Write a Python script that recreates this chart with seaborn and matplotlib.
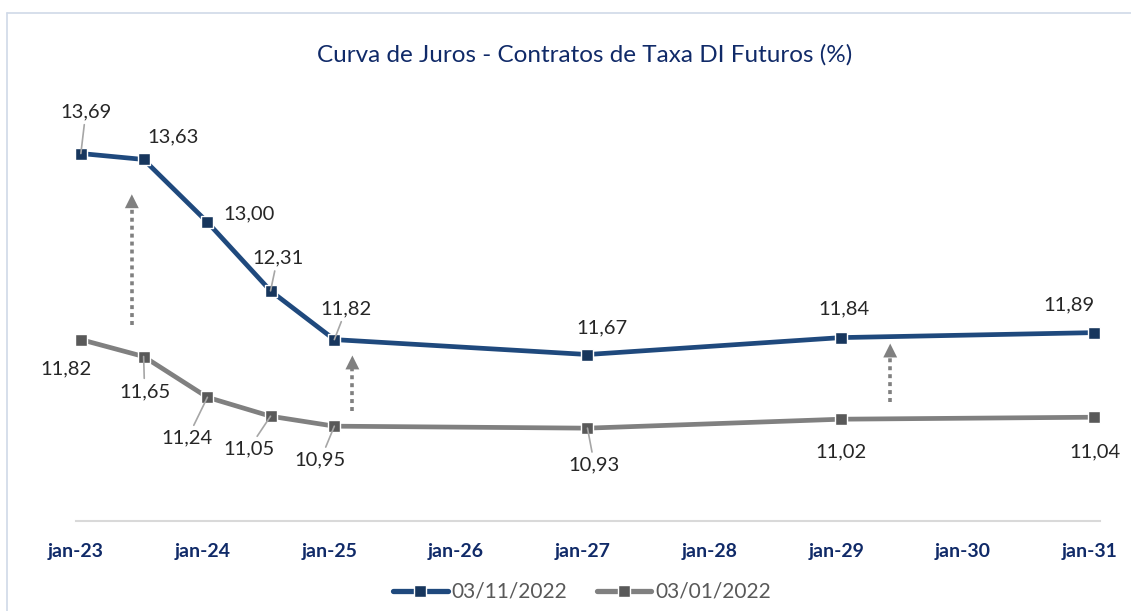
import numpy as np
import pandas as pd
import matplotlib
matplotlib.use("Agg")
import matplotlib.pyplot as plt
import matplotlib.dates as mdates
from matplotlib.lines import Line2D
import seaborn as sns

# ---------------- data ----------------
maturities = ["2023-01-15", "2023-07-15", "2024-01-15", "2024-07-15",
              "2025-01-15", "2027-01-15", "2029-01-15", "2031-01-15"]
curve_nov = [13.69, 13.63, 13.00, 12.31, 11.82, 11.67, 11.84, 11.89]
curve_jan = [11.82, 11.65, 11.24, 11.05, 10.95, 10.93, 11.02, 11.04]
series_names = ["03/11/2022", "03/01/2022"]
tick_dates = ["2023-01-01", "2024-01-01", "2025-01-01", "2026-01-01", "2027-01-01",
              "2028-01-01", "2029-01-01", "2030-01-01", "2031-01-01"]
tick_labels = ["jan-23", "jan-24", "jan-25", "jan-26", "jan-27",
               "jan-28", "jan-29", "jan-30", "jan-31"]
title = "Curva de Juros - Contratos de Taxa DI Futuros (%)"
arrow_x = ["2023-06-11", "2025-03-08", "2029-06-06"]
arrow_from = [11.97, 11.10, 11.19]
arrow_to = [13.28, 11.66, 11.78]

# ---------------- styles ----------------
FONT = "Lato"
blue_line, blue_mark = "#1F497D", "#17365D"
gray_line, gray_mark = "#808080", "#595959"
navy_text = "#102A68"
# label offsets (pixels) and leader-line flags
nov_off = [(5, 42), (29, 23), (42, 8), (7, 33), (12, 31), (14, 27), (3, 29), (-25, 28)]
nov_lead = [True, False, False, True, True, False, False, False]
jan_off = [(-15, -29), (1, -35), (-20, -41), (-22, -33), (-14, -34), (7, -37), (0, -33), (1, -35)]
jan_lead = [False, True, True, True, True, True, False, False]

sns.set_theme(style="white")
plt.rcParams["font.family"] = [FONT, "DejaVu Sans"]

W, H = 1131, 611
fig = plt.figure(figsize=(W / 100, H / 100), dpi=100)
ax_left, ax_right, ax_bot, ax_top = 76, 1100, 520.7, 72.9
ax = fig.add_axes([ax_left / W, 1 - ax_bot / H, (ax_right - ax_left) / W, (ax_bot - ax_top) / H])

x = mdates.date2num(pd.to_datetime(maturities))
df = pd.DataFrame({
    "x": np.concatenate([x, x]),
    "y": curve_nov + curve_jan,
    "serie": [series_names[0]] * len(x) + [series_names[1]] * len(x),
})

for name, lc, mc in [(series_names[0], blue_line, blue_mark), (series_names[1], gray_line, gray_mark)]:
    sns.lineplot(data=df[df["serie"] == name], x="x", y="y", ax=ax, color=lc,
                 linewidth=3.4, marker="s", markersize=9, markerfacecolor=mc,
                 markeredgecolor="white", markeredgewidth=1.0, legend=False, zorder=3)

# data labels
def add_labels(vals, offs, leads):
    for xi, v, (dx, dy), lead in zip(x, vals, offs, leads):
        txt = f"{v:.2f}".replace(".", ",")
        kw = {}
        if lead:
            kw["arrowprops"] = dict(arrowstyle="-", color="#A6A6A6", lw=1.2,
                                    shrinkA=1, shrinkB=0)
        ax.annotate(txt, xy=(xi, v), xytext=(dx, dy), textcoords="offset pixels",
                    ha="center", va="center", fontsize=14.5, color="#262626", zorder=5, **kw)

add_labels(curve_nov, nov_off, nov_lead)
add_labels(curve_jan, jan_off, jan_lead)

# dotted arrows
ax_x = mdates.date2num(pd.to_datetime(arrow_x))
for xa, y0, y1 in zip(ax_x, arrow_from, arrow_to):
    ax.plot([xa, xa], [y0, y1 - 0.13], color=gray_line, lw=2.6,
            linestyle=(0, (1.1, 1.1)), solid_capstyle="butt", dash_capstyle="butt", zorder=2)
    ax.annotate("", xy=(xa, y1), xytext=(0, -15), textcoords="offset pixels",
                arrowprops=dict(arrowstyle="-|>,head_length=1.0,head_width=0.5",
                                color=gray_line, lw=0, shrinkA=0, shrinkB=0,
                                mutation_scale=10), zorder=2)

# axes styling
ax.set_ylim(10, 14.5)
ax.set_xlim(mdates.date2num(pd.Timestamp("2023-01-01")), mdates.date2num(pd.Timestamp("2031-02-01")))
ax.set_xticks(mdates.date2num(pd.to_datetime(tick_dates)))
ax.set_xticklabels(tick_labels, fontsize=14, fontweight="bold", color=navy_text)
ax.set_yticks([])
ax.set_xlabel("")
ax.set_ylabel("")
for s in ["top", "right", "left"]:
    ax.spines[s].set_visible(False)
ax.spines["bottom"].set_color("#D9D9D9")
ax.spines["bottom"].set_linewidth(1.5)
ax.tick_params(axis="x", direction="out", length=5, width=1.5, color="#D9D9D9", pad=11)
ax.set_facecolor("none")

fig.text(585 / W, 1 - 55 / H, title, ha="center", va="center", fontsize=17.5, color=navy_text)

handles = [
    Line2D([0], [0], color=blue_line, lw=3.8, marker="s", markersize=9,
           markerfacecolor=blue_mark, markeredgecolor="white", markeredgewidth=1.0),
    Line2D([0], [0], color=gray_line, lw=3.8, marker="s", markersize=9,
           markerfacecolor=gray_mark, markeredgecolor="white", markeredgewidth=1.0),
]
leg = fig.legend(handles, series_names, loc="center", bbox_to_anchor=(582 / W, 1 - 592 / H),
                 ncol=2, frameon=False, fontsize=15, handlelength=2.6, handletextpad=0.2,
                 columnspacing=1.4, labelcolor="#595959")

# chart border (top and left edges visible)
fig.add_artist(Line2D([7 / W, 7 / W], [0, 1 - 13 / H], transform=fig.transFigure, color="#D0D9E8", lw=1.2))
fig.add_artist(Line2D([7 / W, 1], [1 - 13 / H, 1 - 13 / H], transform=fig.transFigure, color="#D0D9E8", lw=1.2))

fig.savefig("out.png", dpi=100, facecolor="white")
